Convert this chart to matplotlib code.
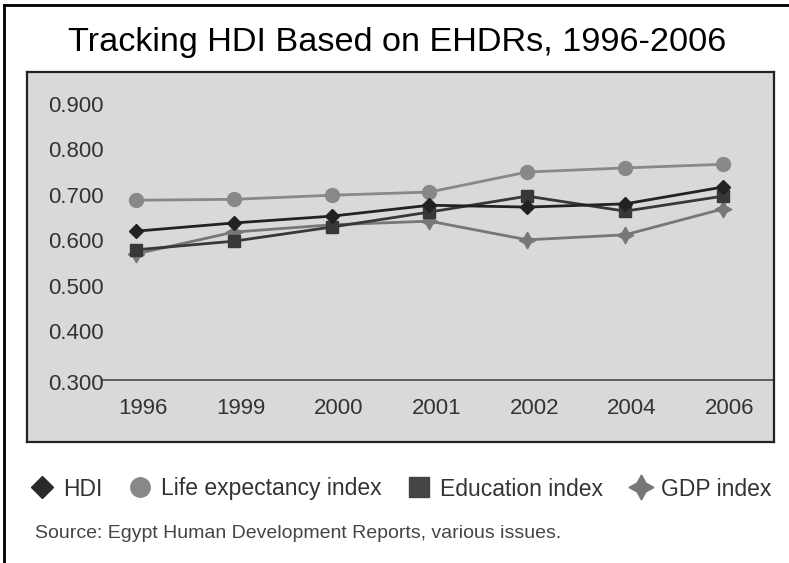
import matplotlib
matplotlib.use("Agg")
import matplotlib.pyplot as plt
from matplotlib.lines import Line2D

plt.rcParams['font.family'] = ['Liberation Sans', 'DejaVu Sans']

years = ["1996", "1999", "2000", "2001", "2002", "2004", "2006"]
hdi = [0.626, 0.644, 0.659, 0.683, 0.679, 0.686, 0.723]
life = [0.694, 0.696, 0.705, 0.712, 0.756, 0.765, 0.773]
education = [0.585, 0.604, 0.635, 0.668, 0.703, 0.670, 0.703]
gdp = [0.576, 0.624, 0.640, 0.648, 0.607, 0.618, 0.675]
y_ticks = [0.3, 0.4, 0.5, 0.6, 0.7, 0.8, 0.9]
y_tick_labels = ["0.300", "0.400", "0.500", "0.600", "0.700", "0.800", "0.900"]
series_names = ["HDI", "Life expectancy index", "Education index", "GDP index"]

W, H = 789, 563
fig = plt.figure(figsize=(W / 100, H / 100), dpi=100)
fig.patch.set_facecolor("white")

# outer frame (top and left edges)
fig.add_artist(Line2D([4 / W, 4 / W], [0, 1 - 5 / H], transform=fig.transFigure,
                      color="black", lw=2))
fig.add_artist(Line2D([4 / W, 1], [1 - 5 / H, 1 - 5 / H], transform=fig.transFigure,
                      color="black", lw=2))

# grey plot box
x0, x1, y0, y1 = 27, 774, 72, 442
ax = fig.add_axes([x0 / W, 1 - y1 / H, (x1 - x0) / W, (y1 - y0) / H])
ax.set_facecolor("#d9d9d9")
for s in ax.spines.values():
    s.set_color("#222222")
    s.set_linewidth(1.6)

# pixel mapping
px_per_cat = (723 - 136) / 6.0
xl = (x0 - 136) / px_per_cat
xr = 6 + (x1 - 723) / px_per_cat
px_per_unit = 455.0
yb = 0.6 - (y1 - 243) / px_per_unit
yt = 0.6 + (243 - y0) / px_per_unit
ax.set_xlim(xl, xr)
ax.set_ylim(yb, yt)
ax.set_xticks([])
ax.set_yticks([])

xs = list(range(len(years)))

# baseline at 0.300
axis_start = (102 - 136) / px_per_cat
ax.plot([axis_start, xr], [0.3, 0.3], color="#555555", lw=1.3, zorder=2)

# y tick labels
label_right = (104 - 136) / px_per_cat
for v, t in zip(y_ticks, y_tick_labels):
    ax.text(label_right, v - (0.012 if v == 0.3 else 0), t, ha="right", va="center",
            fontsize=16, color="#333333")

# x tick labels
for i, t in enumerate(years):
    ax.text(i + 0.07, 0.6 - (409 - 243) / px_per_unit, t, ha="center", va="center",
            fontsize=16, color="#333333")

star = (4, 1, 0)
ax.plot(xs, life, color="#888888", lw=2, marker="o", ms=10, mfc="#888888",
        mec="#888888", zorder=3)
ax.plot(xs, gdp, color="#777777", lw=2, marker=star, ms=12, mfc="#777777",
        mec="#777777", zorder=3)
ax.plot(xs, education, color="#383838", lw=2, marker="s", ms=8, mfc="#383838",
        mec="#383838", zorder=4)
ax.plot(xs, hdi, color="#222222", lw=2, marker="D", ms=7, mfc="#222222",
        mec="#222222", zorder=5)

# title
fig.text(397 / W, 1 - 42 / H, "Tracking HDI Based on EHDRs, 1996-2006",
         ha="center", va="center", fontsize=24.7, color="black")

# legend
handles = [
    Line2D([], [], ls="none", marker="D", ms=11, color="#2a2a2a"),
    Line2D([], [], ls="none", marker="o", ms=14, color="#888888"),
    Line2D([], [], ls="none", marker="s", ms=14, color="#444444"),
    Line2D([], [], ls="none", marker=star, ms=18, color="#777777"),
]
leg = fig.legend(handles, series_names, loc="center", ncol=4,
                 bbox_to_anchor=(400 / W, 1 - 489 / H), frameon=False,
                 fontsize=16.5, handletextpad=0.3, columnspacing=1.05,
                 handlelength=1.2)
for t in leg.get_texts():
    t.set_color("#333333")

# source
fig.text(35 / W, 1 - 533 / H, "Source: Egypt Human Development Reports, various issues.",
         ha="left", va="center", fontsize=14, color="#444444")

fig.savefig("out.png", dpi=100)
